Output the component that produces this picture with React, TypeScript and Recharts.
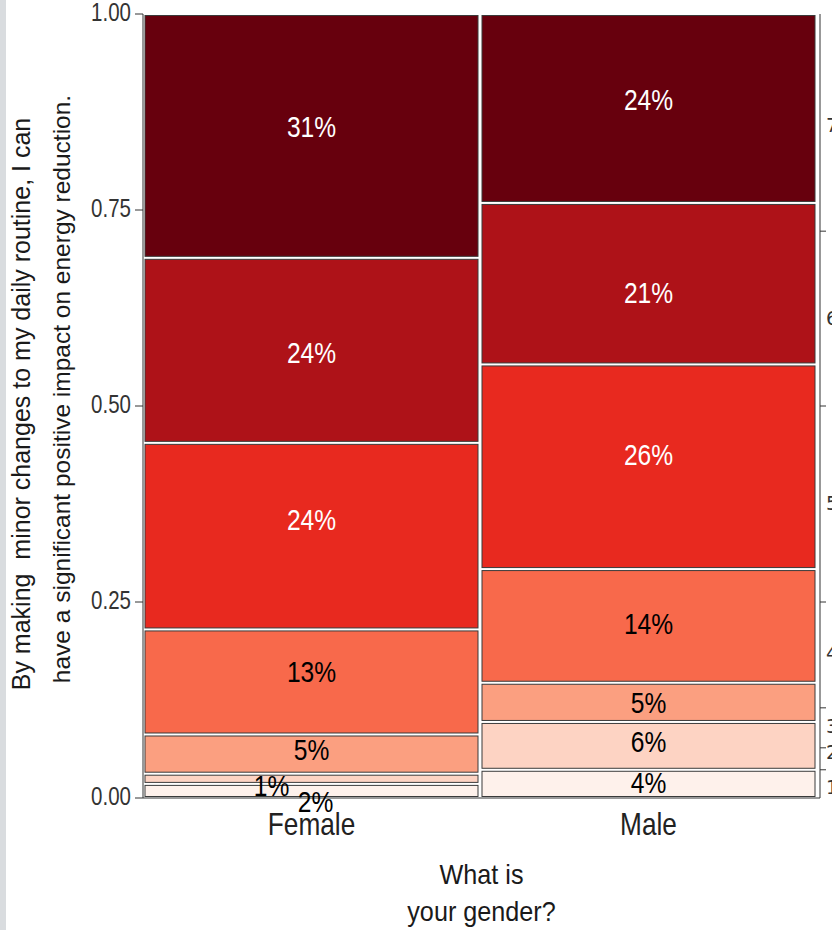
import React from 'react';
import { BarChart, Bar, XAxis, YAxis, LabelList, ReferenceLine } from 'recharts';

// ---- data ----
const categories = ['Female', 'Male'];
const level1 = [0.018, 0.036];
const level2 = [0.013, 0.061];
const level3 = [0.05, 0.05];
const level4 = [0.134, 0.145];
const level5 = [0.238, 0.261];
const level6 = [0.236, 0.206];
const level7 = [0.311, 0.241];
const levels = [level1, level2, level3, level4, level5, level6, level7];
const yTicks = [0, 0.25, 0.5, 0.75, 1];
const rightTickValues = [0.723, 0.5, 0.25, 0.115, 0.064, 0.036];
const rightLabelValues = [0.858, 0.612, 0.376, 0.185, 0.091, 0.059, 0.014];
const rightLabels = ['7', '6', '5', '4', '3', '2', '1'];
const yTitleLines = [
  'By making  minor changes to my daily routine, I can',
  'have a significant positive impact on energy reduction.',
];
const xTitleLines = ['What is', 'your gender?'];

// ---- styles ----
const palette = ['#FEF1EB', '#FDD3C3', '#FB9F80', '#F8694B', '#E8291F', '#AE1218', '#67000D'];
const labelColors = ['#000', '#000', '#000', '#000', '#fff', '#fff', '#fff'];
const FONT = '"Liberation Sans", Arial, sans-serif';
const NARROW = 0.82;
// label nudges [dx, dy] (px) to follow the reference's text placement
const nudges: Record<string, [number, number]> = {
  'Female-l1': [4, 10],
  'Female-l2': [-40, 7],
  'Female-l3': [0, -5],
  'Female-l4': [0, -11],
  'Female-l5': [0, -17],
  'Female-l6': [0, 2],
  'Female-l7': [0, -10],
  'Male-l1': [0, -2],
  'Male-l2': [0, -5],
  'Male-l3': [0, 0],
  'Male-l4': [0, -3],
  'Male-l5': [0, -12],
  'Male-l6': [0, 9],
  'Male-l7': [0, -9],
};

const data = categories.map((g, i) => {
  const row: any = { gender: g };
  levels.forEach((arr, k) => {
    row['l' + (k + 1)] = arr[i];
  });
  return row;
});

const SText = (props: any) => {
  const { x, y, sx = NARROW, children, ...rest } = props;
  return (
    <text transform={`translate(${x},${y}) scale(${sx},1)`} x={0} y={0} fontFamily={FONT} {...rest}>
      {children}
    </text>
  );
};

const Tile = (props: any) => {
  const { x, y, width, height, fill } = props;
  if (!height || height <= 0) return null;
  return (
    <rect
      x={x + 0.5}
      y={y + 1.5}
      width={Math.max(width - 1, 0)}
      height={Math.max(height - 3, 0)}
      fill={fill}
      stroke="#3a3a3a"
      strokeWidth={1}
    />
  );
};

const makeLabel = (key: string, color: string) => (props: any) => {
  const { x, y, width, height, value, index } = props;
  if (value == null) return null;
  const cat = categories[index];
  const [dx, dy] = nudges[`${cat}-${key}`] || [0, 0];
  return (
    <SText
      x={x + width / 2 + dx}
      y={y + height / 2 + dy + 10.7}
      textAnchor="middle"
      fill={color}
      fontSize={30}
    >
      {Math.round(value * 100)}%
    </SText>
  );
};

const YTick = (props: any) => {
  const { x, y, payload } = props;
  return (
    <SText x={x} y={y + 6.5} textAnchor="end" fill="#333" fontSize={25}>
      {Number(payload.value).toFixed(2)}
    </SText>
  );
};

const XTick = (props: any) => {
  const { x, y, payload } = props;
  return (
    <SText x={x} y={y + 23} textAnchor="middle" fill="#222" fontSize={32}>
      {payload.value}
    </SText>
  );
};

const yTitleShift = [-2, -17];
const YTitle = (props: any) => {
  const vb = props.viewBox || { x: 0, y: 14, width: 143, height: 784 };
  const cy = vb.y + vb.height / 2;
  return (
    <g>
      {yTitleLines.map((t, i) => (
        <text
          key={i}
          transform={`translate(${30 + i * 40},${cy + yTitleShift[i]}) rotate(-90)`}
          textAnchor="middle"
          fontSize={i === 0 ? 25 : 24.5}
          fontFamily={FONT}
          fill="#1a1a1a"
          style={{ whiteSpace: 'pre' }}
        >
          {t}
        </text>
      ))}
    </g>
  );
};

const XTitle = (props: any) => {
  const vb = props.viewBox || { x: 143, y: 798, width: 677, height: 132 };
  const cx = vb.x + vb.width / 2;
  return (
    <g>
      {xTitleLines.map((t, i) => (
        <SText key={i} x={cx} y={vb.y + 86 + i * 37} sx={0.9} textAnchor="middle" fontSize={28} fill="#1a1a1a">
          {t}
        </SText>
      ))}
    </g>
  );
};

const RightMark = (props: any) => {
  const vb = props.viewBox;
  if (!vb) return null;
  const ax = vb.x + vb.width;
  if (props.text != null) {
    return (
      <text x={ax + 6} y={vb.y} dy="0.36em" fontSize={19} fontFamily="DejaVu Sans, sans-serif" fill="#333">
        {props.text}
      </text>
    );
  }
  return <line x1={ax} x2={ax + 6} y1={vb.y} y2={vb.y} stroke="#333" strokeWidth={1} />;
};

export default function App() {
  return (
    <div style={{ position: 'absolute', left: 0, top: 0, width: 832, height: 930, background: '#fff', overflow: 'hidden' }}>
      <div style={{ position: 'absolute', left: 0, top: 0, width: 6, height: 930, background: '#d9dcdf' }} />
      <div style={{ position: 'absolute', left: 0, top: 0 }}>
        <BarChart
          width={832}
          height={930}
          data={data}
          margin={{ top: 14, right: 0, bottom: 0, left: 0 }}
          barCategoryGap={1.5}
        >
          <XAxis
            xAxisId="bottom"
            dataKey="gender"
            padding={{ left: 0, right: 3 }}
            tickLine={false}
            axisLine={{ stroke: '#333' }}
            tickSize={0}
            tickMargin={14}
            height={132}
            interval={0}
            tick={<XTick />}
            label={<XTitle />}
          />
          <XAxis
            xAxisId="top"
            dataKey="gender"
            orientation="top"
            height={0}
            padding={{ left: 0, right: 3 }}
            tick={false}
            tickLine={false}
            axisLine={{ stroke: '#333' }}
          />
          <YAxis
            yAxisId="left"
            type="number"
            domain={[0, 1]}
            ticks={yTicks}
            interval={0}
            width={143}
            tickSize={8}
            tickMargin={4}
            axisLine={{ stroke: '#333' }}
            tickLine={{ stroke: '#333' }}
            tick={<YTick />}
            label={<YTitle />}
          />
          <YAxis
            yAxisId="right"
            orientation="right"
            type="number"
            domain={[0, 1]}
            width={12}
            tick={false}
            tickLine={false}
            axisLine={{ stroke: '#333' }}
          />
          {levels.map((_, k) => {
            const key = 'l' + (k + 1);
            return (
              <Bar
                key={key}
                dataKey={key}
                stackId="s"
                xAxisId="bottom"
                yAxisId="left"
                fill={palette[k]}
                shape={<Tile />}
                isAnimationActive={false}
              >
                <LabelList dataKey={key} content={makeLabel(key, labelColors[k])} />
              </Bar>
            );
          })}
          {rightTickValues.map((v, i) => (
            <ReferenceLine
              key={'rt' + i}
              xAxisId="bottom"
              yAxisId="left"
              y={v}
              stroke="none"
              ifOverflow="visible"
              label={<RightMark />}
            />
          ))}
          {rightLabelValues.map((v, i) => (
            <ReferenceLine
              key={'rl' + i}
              xAxisId="bottom"
              yAxisId="left"
              y={v}
              stroke="none"
              ifOverflow="visible"
              label={<RightMark text={rightLabels[i]} />}
            />
          ))}
        </BarChart>
      </div>
    </div>
  );
}
